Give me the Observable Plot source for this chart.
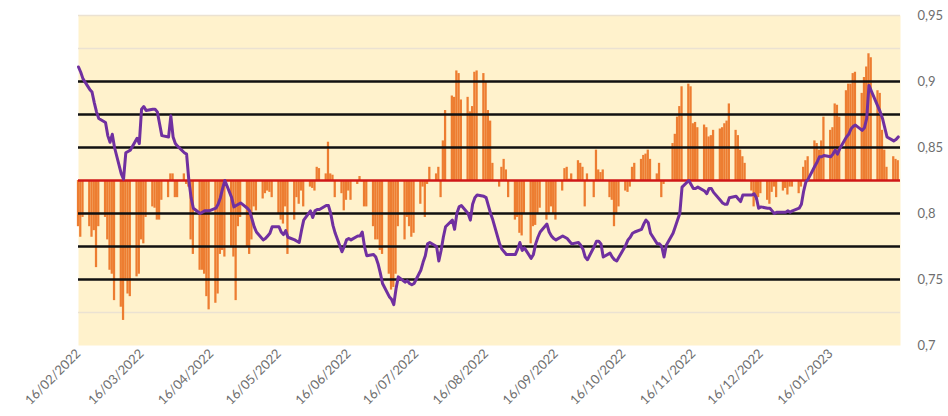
<!DOCTYPE html>
<html>
<head>
<meta charset="utf-8">
<script src="https://cdn.jsdelivr.net/npm/d3@7"></script>
<script src="https://cdn.jsdelivr.net/npm/@observablehq/plot@0.6"></script>
<style>
  html, body { margin: 0; padding: 0; background: #ffffff; }
  #chart { width: 948px; height: 416px; }
</style>
</head>
<body>
<div id="chart"></div>
<script>
// ---- Data (business days from 16/02/2022) ----
const startDate = "2022-02-16";

// daily values drawn as orange bars around the 0,825 reference level
const barValues = [
  0.790, 0.782, 0.797,
  0.790, 0.782, 0.787, 0.759, 0.790,
  0.797, 0.780, 0.757, 0.754, 0.734,
  0.729, 0.719, 0.749, 0.739, 0.737,
  0.752, 0.754, 0.780, 0.777, 0.797,
  0.805, 0.804, 0.795, 0.795, 0.810,
  0.812, 0.830, 0.830, 0.812, 0.812,
  0.830, 0.822, 0.820, 0.780, 0.769,
  0.757, 0.757, 0.754, 0.737, 0.727,
  0.732, 0.739, 0.769, 0.772, 0.767,
  0.775, 0.767, 0.734, 0.790, 0.797,
  0.775, 0.769, 0.780, 0.805, 0.802,
  0.811, 0.815, 0.817, 0.816, 0.812,
  0.800, 0.795, 0.792, 0.805, 0.769,
  0.795, 0.812, 0.807, 0.817, 0.805,
  0.820, 0.819, 0.817, 0.835, 0.834,
  0.830, 0.854, 0.830, 0.829, 0.812,
  0.815, 0.802, 0.810, 0.817, 0.810,
  0.822, 0.828, 0.824, 0.805, 0.805,
  0.790, 0.780, 0.780, 0.772, 0.769,
  0.754, 0.742, 0.744, 0.754, 0.790,
  0.780, 0.797, 0.790, 0.782, 0.785,
  0.807, 0.820, 0.797, 0.822, 0.835,
  0.830, 0.835, 0.812, 0.855, 0.878,
  0.889, 0.888, 0.908, 0.906, 0.886,
  0.888, 0.877, 0.881, 0.907, 0.908,
  0.906, 0.900, 0.878, 0.870, 0.838,
  0.820, 0.835, 0.841, 0.833, 0.812,
  0.795, 0.797, 0.785, 0.783, 0.800,
  0.777, 0.790, 0.791, 0.800, 0.804,
  0.795, 0.800, 0.805, 0.800, 0.795,
  0.817, 0.834, 0.835, 0.826, 0.830,
  0.840, 0.838, 0.835, 0.805, 0.830,
  0.812, 0.848, 0.833, 0.831, 0.833,
  0.812, 0.810, 0.790, 0.800, 0.805,
  0.817, 0.816, 0.820, 0.835, 0.838,
  0.841, 0.844, 0.845, 0.848, 0.841,
  0.830, 0.838, 0.812, 0.822, 0.825,
  0.853, 0.860, 0.873, 0.881, 0.896,
  0.898, 0.896, 0.868, 0.869, 0.865,
  0.867, 0.865, 0.858, 0.859, 0.863,
  0.864, 0.865, 0.868, 0.870, 0.883,
  0.863, 0.859, 0.848, 0.843, 0.838,
  0.817, 0.805, 0.810, 0.812, 0.815,
  0.810, 0.807, 0.816, 0.820, 0.812,
  0.817, 0.819, 0.814, 0.820, 0.820,
  0.815, 0.820, 0.835, 0.840, 0.843,
  0.855, 0.853, 0.848, 0.855, 0.873,
  0.863, 0.865, 0.883, 0.882, 0.873,
  0.893, 0.898, 0.898, 0.906, 0.907,
  0.891, 0.903, 0.911, 0.921, 0.918,
  0.893, 0.891, 0.863, 0.848, 0.835,
  0.843, 0.841, 0.840
];

// smoothed series drawn as the purple line
const lineValues = [
  0.911, 0.907, 0.902,
  0.894, 0.892, 0.884, 0.877, 0.872,
  0.869, 0.859, 0.854, 0.860, 0.850,
  0.830, 0.826, 0.846, 0.847, 0.848,
  0.857, 0.853, 0.879, 0.881, 0.878,
  0.879, 0.879, 0.877, 0.868, 0.859,
  0.858, 0.874, 0.858, 0.853, 0.851,
  0.846, 0.845, 0.825, 0.812, 0.804,
  0.800, 0.801, 0.802, 0.802, 0.802,
  0.804, 0.807, 0.812, 0.819, 0.825,
  0.812, 0.805, 0.806, 0.807, 0.808,
  0.804, 0.802, 0.796, 0.790, 0.786,
  0.780, 0.781, 0.783, 0.785, 0.790,
  0.790, 0.786, 0.784, 0.787, 0.782,
  0.780, 0.779, 0.778, 0.787, 0.795,
  0.802, 0.797, 0.802, 0.803, 0.803,
  0.806, 0.806, 0.800, 0.791, 0.785,
  0.771, 0.775, 0.780, 0.781, 0.780,
  0.783, 0.783, 0.786, 0.775, 0.768,
  0.769, 0.767, 0.762, 0.755, 0.747,
  0.737, 0.735, 0.731, 0.743, 0.752,
  0.748, 0.749, 0.747, 0.746, 0.747,
  0.757, 0.763, 0.768, 0.777, 0.778,
  0.775, 0.764, 0.772, 0.782, 0.790,
  0.795, 0.788, 0.800, 0.805, 0.806,
  0.800, 0.795, 0.807, 0.812, 0.814,
  0.813, 0.812, 0.806, 0.800, 0.795,
  0.777, 0.773, 0.771, 0.769, 0.769,
  0.769, 0.773, 0.778, 0.772, 0.774,
  0.766, 0.769, 0.777, 0.782, 0.786,
  0.792, 0.786, 0.783, 0.781, 0.780,
  0.783, 0.782, 0.781, 0.779, 0.777,
  0.778, 0.776, 0.773, 0.767, 0.765,
  0.775, 0.779, 0.779, 0.777, 0.767,
  0.770, 0.767, 0.765, 0.764, 0.767,
  0.776, 0.780, 0.782, 0.785, 0.786,
  0.788, 0.792, 0.795, 0.793, 0.785,
  0.777, 0.777, 0.775, 0.767, 0.776,
  0.785, 0.790, 0.795, 0.800, 0.820,
  0.825, 0.822, 0.819, 0.819, 0.820,
  0.817, 0.815, 0.819, 0.819, 0.816,
  0.810, 0.808, 0.807, 0.807, 0.812,
  0.813, 0.811, 0.809, 0.814, 0.814,
  0.814, 0.815, 0.812, 0.804, 0.805,
  0.804, 0.804, 0.802, 0.800, 0.801,
  0.801, 0.801, 0.802, 0.801, 0.802,
  0.804, 0.807, 0.817, 0.824, 0.826,
  0.836, 0.839, 0.843, 0.843, 0.844,
  0.843, 0.845, 0.848, 0.845, 0.849,
  0.858, 0.860, 0.864, 0.866, 0.867,
  0.863, 0.865, 0.872, 0.897, 0.893,
  0.881, 0.877, 0.872, 0.865, 0.858,
  0.855, 0.856, 0.858
];

const baseline = 0.825;
const blackLevels = [0.9, 0.875, 0.85, 0.8, 0.775, 0.75];
const lightLevels = [0.95, 0.925, 0.725];
const yTicks = [0.7, 0.75, 0.8, 0.85, 0.9, 0.95];
const xTickLabels = [
  "16/02/2022", "16/03/2022", "16/04/2022", "16/05/2022", "16/06/2022", "16/07/2022",
  "16/08/2022", "16/09/2022", "16/10/2022", "16/11/2022", "16/12/2022", "16/01/2023"
];
const xDomain = ["2022-02-16", "2023-02-16"];

// ---- Build tables ----
const DAY = 24 * 3600 * 1000;
function businessDays(start, n) {
  const out = [];
  let t = new Date(start + "T00:00:00Z").getTime();
  while (out.length < n) {
    const wd = new Date(t).getUTCDay();
    if (wd !== 0 && wd !== 6) out.push(new Date(t));
    t += DAY;
  }
  return out;
}
const dates = businessDays(startDate, barValues.length);
const bars = barValues.map((v, i) => ({
  x1: new Date(dates[i].getTime() - 0.5 * DAY),
  x2: new Date(dates[i].getTime() + 0.5 * DAY),
  base: baseline,
  value: v
}));
const line = lineValues.map((v, i) => ({ date: dates[i], value: v }));
const parseLabel = s => { const [d, m, y] = s.split("/"); return new Date(Date.UTC(+y, +m - 1, +d)); };
const xTicks = xTickLabels.map(parseLabel);

const chart = Plot.plot({
  width: 948,
  height: 416,
  marginLeft: 78,
  marginRight: 48,
  marginTop: 15,
  marginBottom: 71,
  style: { fontFamily: "Lato, 'Open Sans', sans-serif", fontSize: "13px", color: "#6e6e6e", background: "#ffffff" },
  x: { type: "utc", domain: xDomain.map(s => new Date(s + "T00:00:00Z")) },
  y: { domain: [0.7, 0.95] },
  marks: [
    Plot.frame({ fill: "#FFF2CC", stroke: null }),
    Plot.ruleY(lightLevels, { stroke: "#ebe2d2", strokeWidth: 1.5 }),
    Plot.rect(bars, { x1: "x1", x2: "x2", y1: "base", y2: "value", fill: "#ED7D31" }),
    Plot.ruleY(blackLevels, { stroke: "#111111", strokeWidth: 2.6 }),
    Plot.ruleY([baseline], { stroke: "#d01818", strokeWidth: 2.6 }),
    Plot.line(line, { x: "date", y: "value", stroke: "#7030A0", strokeWidth: 3, strokeLinejoin: "round" }),
    Plot.axisY({
      anchor: "right", ticks: yTicks, tickSize: 0, tickPadding: 17,
      tickFormat: d => String(+d.toFixed(3)).replace(".", ","), label: null, textAnchor: "start"
    }),
    Plot.axisX({
      ticks: xTicks, tickSize: 0, tickPadding: 6, tickRotate: -45,
      tickFormat: d3.utcFormat("%d/%m/%Y"), label: null
    })
  ]
});
document.getElementById("chart").appendChild(chart);
</script>
</body>
</html>
